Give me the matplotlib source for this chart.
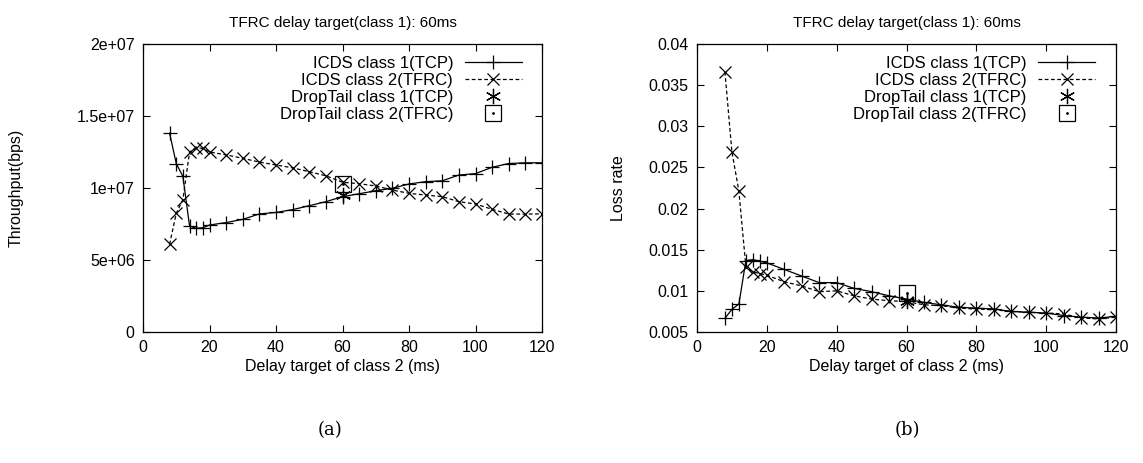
import numpy as np
import matplotlib
matplotlib.use('Agg')
import matplotlib.pyplot as plt
from matplotlib.legend_handler import HandlerTuple

plt.rcParams['font.family'] = ['Liberation Sans', 'DejaVu Sans']
plt.rcParams['font.size'] = 11

# delay target of class 2 (ms)
delay = [8, 10, 12, 14, 16, 18, 20, 25, 30, 35, 40, 45, 50, 55, 60,
         65, 70, 75, 80, 85, 90, 95, 100, 105, 110, 115, 120]

# (a) throughput (bps)
icds_tcp_thr = [1.38e7, 1.17e7, 1.08e7, 7.36e6, 7.2e6, 7.24e6, 7.43e6, 7.6e6, 7.82e6, 8.2e6, 8.3e6, 8.5e6, 8.77e6, 9.05e6, 9.4e6,
                9.6e6, 9.81e6, 9.98e6, 1.028e7, 1.044e7, 1.05e7, 1.09e7, 1.10e7, 1.144e7, 1.17e7, 1.175e7, 1.175e7]
icds_tfrc_thr = [6.09e6, 8.24e6, 9.2e6, 1.25e7, 1.28e7, 1.275e7, 1.25e7, 1.23e7, 1.206e7, 1.18e7, 1.16e7, 1.14e7, 1.113e7, 1.085e7, 1.04e7,
                 1.03e7, 1.014e7, 9.86e6, 9.63e6, 9.51e6, 9.4e6, 9.05e6, 8.89e6, 8.52e6, 8.19e6, 8.19e6, 8.2e6]

# (b) loss rate
icds_tcp_loss = [0.00666, 0.00776, 0.0084, 0.01367, 0.0138, 0.0136, 0.0134, 0.0126, 0.0118, 0.0110, 0.0110, 0.0103, 0.0099, 0.0094, 0.0090,
                 0.0086, 0.0083, 0.0080, 0.0079, 0.0078, 0.0075, 0.0074, 0.0073, 0.0070, 0.0068, 0.0067, 0.0069]
icds_tfrc_loss = [0.0366, 0.0269, 0.0221, 0.0129, 0.0123, 0.0121, 0.0119, 0.0111, 0.0106, 0.0099, 0.0100, 0.0094, 0.0090, 0.0088, 0.0087,
                  0.0083, 0.0082, 0.0079, 0.0078, 0.0077, 0.0075, 0.0074, 0.0073, 0.0072, 0.0067, 0.0066, 0.0068]

# DropTail single points at 60 ms
dt_delay = [60]
dt_tcp_thr = [9.5e6]
dt_tfrc_thr = [1.03e7]
dt_tcp_loss = [0.0088]
dt_tfrc_loss = [0.0097]

thr_ticks = [0, 5e6, 1e7, 1.5e7, 2e7]
thr_labels = ['0', '5e+06', '1e+07', '1.5e+07', '2e+07']
loss_ticks = [0.005, 0.01, 0.015, 0.02, 0.025, 0.03, 0.035, 0.04]
loss_labels = ['0.005', '0.01', '0.015', '0.02', '0.025', '0.03', '0.035', '0.04']
x_ticks = [0, 20, 40, 60, 80, 100, 120]

title = 'TFRC delay target(class 1): 60ms'
star = (6, 2, 0)


def draw(ax, tcp, tfrc, dt_tcp, dt_tfrc, ylabel, yticks, ylabels, ylim, ylab_x):
    l1, = ax.plot(delay, tcp, color='black', lw=0.9, marker='+', ms=10, mew=0.9)
    l2, = ax.plot(delay, tfrc, color='black', lw=0.9, ls=(0, (3, 2)), marker='x', ms=8, mew=0.9)
    l3, = ax.plot(dt_delay, dt_tcp, ls='none', color='black', marker=star, ms=11, mew=0.9)
    l4, = ax.plot(dt_delay, dt_tfrc, ls='none', color='black', marker='s', ms=11, mew=0.9,
                  mfc='none', mec='black')
    l5, = ax.plot(dt_delay, dt_tfrc, ls='none', color='black', marker='.', ms=2)
    ax.set_xlim(0, 120)
    ax.set_ylim(*ylim)
    ax.set_xticks(x_ticks)
    ax.set_yticks(yticks)
    ax.set_yticklabels(ylabels)
    ax.tick_params(direction='in', top=True, right=True, length=5, width=0.8, labelsize=11.5, pad=6)
    for s in ax.spines.values():
        s.set_linewidth(0.9)
    ax.set_xlabel('Delay target of class 2 (ms)', fontsize=11.5, labelpad=3)
    ax.set_ylabel(ylabel, fontsize=11.5)
    ax.yaxis.set_label_coords(ylab_x, 0.5)
    ax.set_title(title, fontsize=11, family=['Liberation Sans Narrow', 'Liberation Sans'], pad=12)
    ax.legend([l1, l2, l3, (l4, l5)],
              ['ICDS class 1(TCP)', 'ICDS class 2(TFRC)', 'DropTail class 1(TCP)', 'DropTail class 2(TFRC)'],
              handler_map={tuple: HandlerTuple(ndivide=1, pad=0)},
              loc='upper right', bbox_to_anchor=(0.978, 1.0), frameon=False, markerfirst=False,
              fontsize=12, handlelength=3.4, handletextpad=0.7, labelspacing=0.12, borderaxespad=0.3)


fig = plt.figure(figsize=(11.43, 4.63), dpi=100)
W, H = 1143.0, 463.0
ax1 = fig.add_axes([143 / W, 1 - 332 / H, (542 - 143) / W, (332 - 44) / H])
ax2 = fig.add_axes([697 / W, 1 - 332 / H, (1116 - 697) / W, (332 - 44) / H])

draw(ax1, icds_tcp_thr, icds_tfrc_thr, dt_tcp_thr, dt_tfrc_thr, 'Throughput(bps)',
     thr_ticks, thr_labels, (0, 2e7), -0.30)
draw(ax2, icds_tcp_loss, icds_tfrc_loss, dt_tcp_loss, dt_tfrc_loss, 'Loss rate',
     loss_ticks, loss_labels, (0.005, 0.04), -0.17)

fig.text(330 / W, 1 - 430 / H, '(a)', ha='center', va='center', fontsize=13,
         family=['DejaVu Serif'])
fig.text(907 / W, 1 - 430 / H, '(b)', ha='center', va='center', fontsize=13,
         family=['DejaVu Serif'])

fig.savefig('out.png', dpi=100)
